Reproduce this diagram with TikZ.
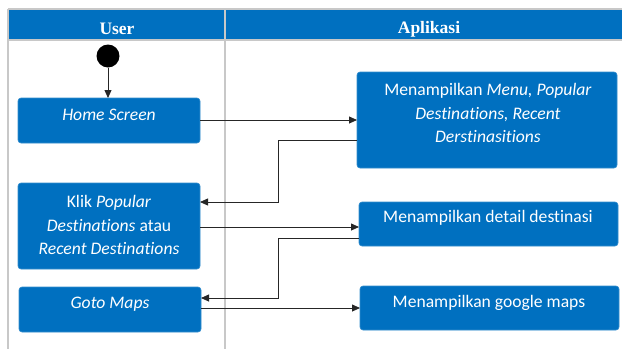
\documentclass[tikz,border=0pt]{standalone}
\usepackage{fontspec}
\setmainfont{Carlito}[Ligatures=NoCommon]
\newfontfamily\headfont{Liberation Serif}
\usetikzlibrary{arrows.meta}
\definecolor{actblue}{HTML}{0070C0}
\definecolor{lanegray}{HTML}{C8C8C8}
\begin{document}
\begin{tikzpicture}[x=1pt,y=-1pt,
  lane/.style={draw=lanegray,line width=1.6pt},
  act/.style={fill=actblue,draw=actblue!80!white,line width=0.6pt,rounded corners=3pt},
  acttext/.style={text=white,font=\fontsize{17.6}{23.5}\selectfont,align=center,inner sep=0pt},
  headtext/.style={text=white,font=\headfont\bfseries\fontsize{17.5}{20}\selectfont,inner sep=0pt},
  flow/.style={draw=black!85,line width=0.8pt,-{Triangle[length=8pt,width=7pt]}}]
\useasboundingbox (0,0) rectangle (622,349);
% swimlane frame
\fill[actblue] (8,9) rectangle (622,40);
\draw[lane] (8,9) -- (622,9);
\draw[lane] (8,40) -- (622,40);
\draw[lane] (8,9) -- (8,349);
\draw[lane] (225,9) -- (225,349);
\node[headtext] (hUser) at (117,29) {User};
\node[headtext] (hApp) at (429,29) {Aplikasi};
% start node
\node[circle,fill=black,minimum size=23pt,inner sep=0pt] (start) at (108,56) {};
% activities
\draw[act] (18,98) rectangle (200,143);
\node[acttext] (home) at (109,115) {\itshape Home Screen};
\coordinate (homeN) at (108,98);
\draw[act] (357,72) rectangle (617,168);
\node[acttext] (menu) at (488,113) {Menampilkan \textit{Menu, Popular}\\\textit{Destinations, Recent}\\\textit{Derstinasitions}};
\draw[act] (18,183) rectangle (200,269);
\node[acttext] (klik) at (109,225) {Klik \textit{Popular}\\\textit{Destinations} atau\\\textit{Recent Destinations}};
\draw[act] (359,202) rectangle (618,246);
\node[acttext] (detail) at (488,218) {Menampilkan detail destinasi};
\draw[act] (19,287) rectangle (201,332);
\node[acttext] (goto) at (110,304) {\itshape Goto Maps};
\draw[act] (360,286) rectangle (619,330);
\node[acttext] (gmaps) at (489,303) {Menampilkan google maps};
% connection points on the box edges
\coordinate (homeE) at (200,120);
\coordinate (menuW) at (357,120);
\coordinate (menuWb) at (357,140);
\coordinate (klikE) at (200,202);
\coordinate (klikEb) at (200,227);
\coordinate (detailW) at (359,227);
\coordinate (detailWb) at (359,238);
\coordinate (gotoE) at (201,298);
\coordinate (gotoEb) at (201,308);
\coordinate (gmapsW) at (360,308);
% flows
\draw[flow] (start) -- (homeN);
\draw[flow] (homeE) -- (menuW);
\draw[flow] (menuWb) -| (278,202) -- (klikE);
\draw[flow] (klikEb) -- (detailW);
\draw[flow] (detailWb) -| (278,298) -- (gotoE);
\draw[flow] (gotoEb) -- (gmapsW);
\end{tikzpicture}
\end{document}
